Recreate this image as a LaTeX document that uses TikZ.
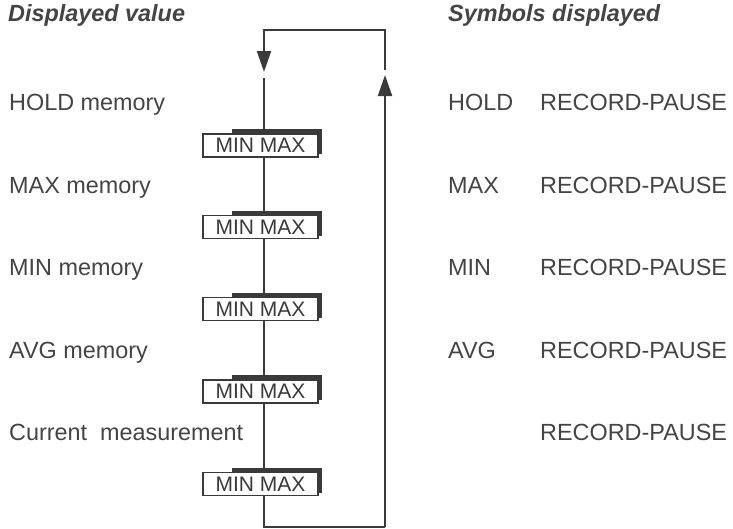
\documentclass[tikz,border=0pt]{standalone}
\usepackage{fontspec}
\setmainfont{Liberation Sans}
\usetikzlibrary{arrows.meta}
\definecolor{ink}{HTML}{3A3A3A}
\definecolor{txt}{HTML}{444444}
\begin{document}
\begin{tikzpicture}[x=1pt,y=-1pt,
  lbl/.style={anchor=base west, inner sep=0pt, text=txt, font=\fontsize{23.4}{27}\selectfont},
  ttl/.style={lbl, font=\fontsize{23.4}{27}\selectfont\bfseries\itshape},
  btn/.style={draw=ink, line width=1.6pt, fill=white, minimum width=115pt, minimum height=23pt, inner sep=0pt, text=ink, font=\fontsize{21}{24}\selectfont},
  wire/.style={draw=ink, line width=2pt},
  tipend/.style={-{Triangle[width=14pt,length=21pt,fill=ink]}}]
\useasboundingbox (0,0) rectangle (733,528);
% titles
\node[ttl] (t1) at (8,21) {Displayed value};
\node[ttl] (t2) at (448,21) {Symbols displayed};
% left labels
\node[lbl] (l1) at (9,110) {HOLD memory};
\node[lbl] (l2) at (9,193) {MAX memory};
\node[lbl] (l3) at (9,275) {MIN memory};
\node[lbl] (l4) at (9,358) {AVG memory};
\node[lbl] (l5) at (9,440) {Current\ \ measurement};
% right labels
\node[lbl] (s1) at (448,110) {HOLD};
\node[lbl] (s2) at (448,193) {MAX};
\node[lbl] (s3) at (448,275) {MIN};
\node[lbl] (s4) at (448,358) {AVG};
\node[lbl] (r1) at (540,110) {RECORD-PAUSE};
\node[lbl] (r2) at (540,193) {RECORD-PAUSE};
\node[lbl] (r3) at (540,275) {RECORD-PAUSE};
\node[lbl] (r4) at (540,358) {RECORD-PAUSE};
\node[lbl] (r5) at (540,440) {RECORD-PAUSE};
% loop coordinates
\coordinate (tl) at (264,30);
\coordinate (tr) at (385,30);
\coordinate (bl) at (264,527);
\coordinate (br) at (385,527);
\coordinate (downtip) at (264,72);
\coordinate (lstart) at (264,78);
\coordinate (uptip) at (385,75);
\coordinate (rtop) at (385,70);
% wires
\draw[wire] (lstart) -- (bl) -- (br);
\draw[wire, tipend] (br) -- (uptip);
\draw[wire, tipend] (rtop) -- (tr) -- (tl) -- (downtip);
% buttons
\foreach \yy/\n in {145.5/1, 227/2, 309/3, 391.5/4, 484/5}{
  \fill[ink] (232,\yy-16.5) rectangle (322,\yy+8.5);
  \node[btn] (b\n) at (260.5,\yy) {MIN MAX};
}
\end{tikzpicture}
\end{document}
